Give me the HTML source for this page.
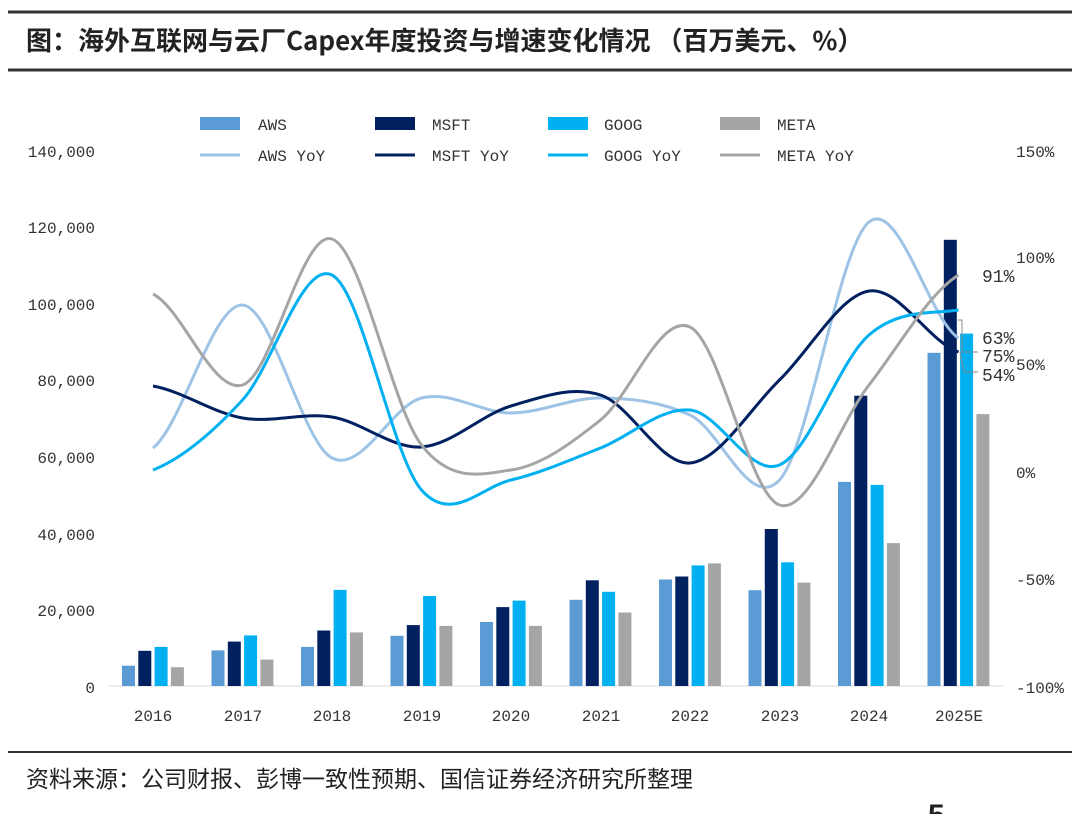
<!DOCTYPE html>
<html><head><meta charset="utf-8"><style>
body{margin:0;background:#fff;}
svg text{font-family:"Liberation Mono","Noto Sans CJK SC",monospace;}
</style></head><body>
<svg width="1080" height="814" viewBox="0 0 1080 814" xmlns="http://www.w3.org/2000/svg">
<rect width="1080" height="814" fill="#fff"/>
<line x1="8" y1="12" x2="1072" y2="12" stroke="#333" stroke-width="3"/>
<line x1="8" y1="70" x2="1072" y2="70" stroke="#333" stroke-width="3"/>
<text x="26" y="50" font-size="26" font-weight="bold" fill="#222" style="font-family:'Noto Sans CJK SC',sans-serif">图：海外互联网与云厂Capex年度投资与增速变化情况 （百万美元、%）</text>
<line x1="8" y1="752" x2="1072" y2="752" stroke="#333" stroke-width="2"/>
<text x="26" y="787" font-size="23" fill="#222" style="font-family:'Noto Sans CJK SC',sans-serif">资料来源：公司财报、彭博一致性预期、国信证券经济研究所整理</text>
<text x="928" y="825" font-size="30" font-weight="bold" fill="#222" style="font-family:'Liberation Sans',sans-serif">5</text>
<g font-size="16" fill="#333">
<text x="95" y="157" text-anchor="end">140,000</text>
<text x="95" y="233" text-anchor="end">120,000</text>
<text x="95" y="310" text-anchor="end">100,000</text>
<text x="95" y="386" text-anchor="end">80,000</text>
<text x="95" y="463" text-anchor="end">60,000</text>
<text x="95" y="540" text-anchor="end">40,000</text>
<text x="95" y="616" text-anchor="end">20,000</text>
<text x="95" y="693" text-anchor="end">0</text>
<text x="1016" y="157">150%</text>
<text x="1016" y="263">100%</text>
<text x="1016" y="370">50%</text>
<text x="1016" y="478">0%</text>
<text x="1016" y="585">-50%</text>
<text x="1016" y="693">-100%</text>
</g>
<g font-size="16" fill="#333" style="font-family:'Liberation Sans',sans-serif" text-anchor="middle">
<text x="153" y="721">2016</text><text x="243" y="721">2017</text><text x="332" y="721">2018</text><text x="422" y="721">2019</text><text x="511" y="721">2020</text><text x="601" y="721">2021</text><text x="690" y="721">2022</text><text x="780" y="721">2023</text><text x="869" y="721">2024</text><text x="959" y="721">2025E</text>
</g>
<line x1="108" y1="686" x2="1004" y2="686" stroke="#d9d9d9"/>
<g font-size="16" fill="#333">
<rect x="200" y="117" width="40" height="13" fill="#5b9bd5"/><text x="258" y="130">AWS</text>
<rect x="375" y="117" width="40" height="13" fill="#002060"/><text x="432" y="130">MSFT</text>
<rect x="548" y="117" width="40" height="13" fill="#00b0f0"/><text x="604" y="130">GOOG</text>
<rect x="720" y="117" width="40" height="13" fill="#a5a5a5"/><text x="777" y="130">META</text>
<line x1="200" y1="155" x2="240" y2="155" stroke="#9dc3e6" stroke-width="3"/><text x="258" y="161">AWS YoY</text>
<line x1="375" y1="155" x2="415" y2="155" stroke="#002060" stroke-width="3"/><text x="432" y="161">MSFT YoY</text>
<line x1="548" y1="155" x2="588" y2="155" stroke="#00b0f0" stroke-width="3"/><text x="604" y="161">GOOG YoY</text>
<line x1="720" y1="155" x2="760" y2="155" stroke="#a5a5a5" stroke-width="3"/><text x="777" y="161">META YoY</text>
</g>
<g fill="#5b9bd5">
<rect x="122" y="665.7" width="13" height="20.3"/><rect x="211.5" y="650.4" width="13" height="35.6"/><rect x="301" y="646.9" width="13" height="39.1"/><rect x="390.5" y="635.8" width="13" height="50.2"/><rect x="480" y="622" width="13" height="64"/><rect x="569.5" y="599.8" width="13" height="86.2"/><rect x="659" y="579.5" width="13" height="106.5"/><rect x="748.5" y="590.2" width="13" height="95.8"/><rect x="838" y="481.9" width="13" height="204.1"/><rect x="927.5" y="352.8" width="13" height="333.2"/>
</g>
<g fill="#002060">
<rect x="138.3" y="650.8" width="13" height="35.2"/><rect x="227.8" y="641.6" width="13" height="44.4"/><rect x="317.3" y="630.5" width="13" height="55.5"/><rect x="406.8" y="625.1" width="13" height="60.9"/><rect x="496.3" y="607.1" width="13" height="78.9"/><rect x="585.8" y="580.3" width="13" height="105.7"/><rect x="675.3" y="576.5" width="13" height="109.5"/><rect x="764.8" y="529" width="13" height="157"/><rect x="854.3" y="395.7" width="13" height="290.3"/><rect x="943.8" y="239.8" width="13" height="446.2"/>
</g>
<g fill="#00b0f0">
<rect x="154.6" y="646.9" width="13" height="39.1"/><rect x="244.1" y="635.4" width="13" height="50.6"/><rect x="333.6" y="589.9" width="13" height="96.1"/><rect x="423.1" y="596" width="13" height="90"/><rect x="512.6" y="600.6" width="13" height="85.4"/><rect x="602.1" y="591.8" width="13" height="94.2"/><rect x="691.6" y="565.4" width="13" height="120.6"/><rect x="781.1" y="562.3" width="13" height="123.7"/><rect x="870.6" y="484.9" width="13" height="201.1"/><rect x="960.1" y="333.6" width="13" height="352.4"/>
</g>
<g fill="#a5a5a5">
<rect x="170.9" y="667.2" width="13" height="18.8"/><rect x="260.4" y="659.6" width="13" height="26.4"/><rect x="349.9" y="632.4" width="13" height="53.6"/><rect x="439.4" y="625.9" width="13" height="60.1"/><rect x="528.9" y="625.9" width="13" height="60.1"/><rect x="618.4" y="612.5" width="13" height="73.5"/><rect x="707.9" y="563.4" width="13" height="122.6"/><rect x="797.4" y="582.6" width="13" height="103.4"/><rect x="886.9" y="543.1" width="13" height="142.9"/><rect x="976.4" y="414.1" width="13" height="271.9"/>
</g>
<g fill="none" stroke-width="3">
<path stroke="#9dc3e6" d="M153,448 C182.8,424.2 212.7,303.3 242.5,305 C272.3,306.7 302.2,442.5 332,458 C361.8,473.5 391.7,405.5 421.5,398 C451.3,390.5 481.2,413 511,413 C540.8,413 570.7,397.7 600.5,398 C630.3,398.3 660.2,401.3 690,415 C719.8,428.7 749.7,512.2 779.5,480 C809.3,447.8 839.2,245.7 869,222 C898.8,198.3 928.7,318.7 958.5,338"/>
<path stroke="#002060" d="M153,386 C182.8,391.3 212.7,412.8 242.5,418 C272.3,423.2 302.2,412.2 332,417 C361.8,421.8 391.7,448.8 421.5,447 C451.3,445.2 481.2,414.7 511,406 C540.8,397.3 570.7,385.5 600.5,395 C630.3,404.5 660.2,465.5 690,463 C719.8,460.5 749.7,408.7 779.5,380 C809.3,351.3 839.2,295.7 869,291 C898.8,286.3 928.7,341.8 958.5,352"/>
<path stroke="#00b0f0" d="M153,470 C182.8,458.3 212.7,432.5 242.5,400 C272.3,367.5 302.2,260 332,275 C361.8,290 391.7,455.8 421.5,490 C451.3,524.2 481.2,487 511,480 C540.8,473 570.7,459.7 600.5,448 C630.3,436.3 660.2,407.2 690,410 C719.8,412.8 749.7,477.5 779.5,465 C809.3,452.5 839.2,360.8 869,335 C898.8,309.2 928.7,314.2 958.5,310"/>
<path stroke="#a5a5a5" d="M153,294 C182.8,309.2 212.7,394.2 242.5,385 C272.3,375.8 302.2,229 332,239 C361.8,249 391.7,406.5 421.5,445 C451.3,483.5 481.2,474.2 511,470 C540.8,465.8 570.7,443.8 600.5,420 C630.3,396.2 660.2,312.8 690,327 C719.8,341.2 749.7,495.3 779.5,505 C809.3,514.7 839.2,423.3 869,385 C898.8,346.7 928.7,293.3 958.5,275"/>
</g>
<g font-size="18" fill="#333" style="font-family:'Liberation Sans',sans-serif">
<text x="982" y="282">91%</text>
<text x="982" y="344">63%</text>
<text x="982" y="362">75%</text>
<text x="982" y="381">54%</text>
</g>
<polyline points="958,320 962,320 962,352 978,352" fill="none" stroke="#888" stroke-width="1"/>
<polyline points="960,352 964,372 978,372" fill="none" stroke="#888" stroke-width="1"/>
</svg>
</body></html>
